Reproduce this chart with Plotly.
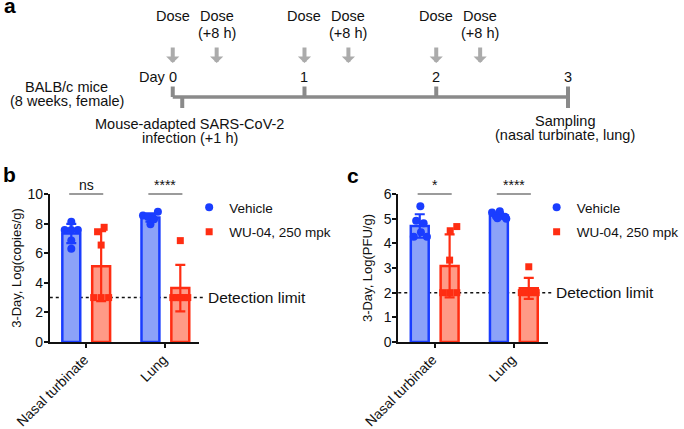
import numpy as np
import plotly.graph_objects as go

# ---------------- DATA ----------------
tissues = ["Nasal turbinate", "Lung"]
group_names = ["Vehicle", "WU-04, 250 mpk"]

# Panel b: 3-Day, Log(copies/g)
b_vehicle_nasal = [8.13, 7.57, 7.57, 7.57, 6.85, 6.30]
b_wu04_nasal = [7.45, 7.75, 6.55, 3.0, 3.0, 3.0]
b_vehicle_lung = [8.55, 8.45, 8.40, 8.80, 7.95, 8.30]
b_wu04_lung = [6.85, 3.0, 3.0, 3.0, 3.0, 3.0]
b_detection_limit = 3.0
b_significance = ["ns", "****"]
b_yticks = [0, 2, 4, 6, 8, 10]

# Panel c: 3-Day, Log(PFU/g)
c_vehicle_nasal = [5.50, 4.92, 4.81, 4.45, 4.27, 4.27]
c_wu04_nasal = [4.51, 4.68, 3.32, 2.0, 2.0, 2.0]
c_vehicle_lung = [5.25, 5.30, 5.10, 5.08, 5.02, 5.00]
c_wu04_lung = [3.05, 2.0, 2.0, 2.0, 2.0, 2.0]
c_detection_limit = 2.0
c_significance = ["*", "****"]
c_yticks = [0, 1, 2, 3, 4, 5, 6]

# Panel a: timeline (days)
day_ticks = [0, 1, 2, 3]
dose_days = [0, 1, 2]
second_dose_offset_h = 8
infection_marker_day = 0.072   # schematic position of "+1 h" infection mark
sampling_day = 3

# ---------------- STYLE ----------------
W, H = 684, 429
FONT = "Liberation Sans, Arial, Helvetica, sans-serif"
TXT = "#111111"
BLUE, BLUE_FILL = "#1a3dff", "#8ca2f8"
RED, RED_FILL = "#ff2d12", "#ff9a86"
GRAY_LINE, GRAY_ARROW, SIG_GRAY = "#8a8a8a", "#ababab", "#7a7a7a"

# point jitter (horizontal spread, in bar units)
jit_b_veh = [[0, -0.22, 0, 0.22, 0, 0], [-0.25, -0.08, 0.08, 0.25, 0.0, 0.12]]
jit_b_wu = [[-0.12, 0.1, 0, -0.25, 0, 0.25], [0, -0.25, -0.12, 0, 0.12, 0.25]]
jit_c_veh = [[0.02, -0.12, 0.13, 0.04, -0.2, 0.24], [-0.23, 0.03, -0.1, 0.2, -0.05, 0.25]]
jit_c_wu = [[0.02, 0.24, 0.0, -0.23, 0, 0.24], [0, -0.25, -0.12, 0, 0.12, 0.25]]

group_centers = [0.5, 3.15]
bar_off = 0.5
bar_w = 0.6
xrange_bar = [-0.72, 4.28]


def px(x):
    return x / W


def py(y):
    return 1 - y / H


fig = go.Figure()

panels = [
    dict(xa="x", ya="y", leg="legend",
         veh=[b_vehicle_nasal, b_vehicle_lung], wu=[b_wu04_nasal, b_wu04_lung],
         jv=jit_b_veh, jw=jit_b_wu, lod=b_detection_limit, sig=b_significance),
    dict(xa="x2", ya="y2", leg="legend2",
         veh=[c_vehicle_nasal, c_vehicle_lung], wu=[c_wu04_nasal, c_wu04_lung],
         jv=jit_c_veh, jw=jit_c_wu, lod=c_detection_limit, sig=c_significance),
]

shapes = []
annotations = []

for p in panels:
    for gi, (key, jkey, fill, edge, sym, sz) in enumerate([
        ("veh", "jv", BLUE_FILL, BLUE, "circle", 8),
        ("wu", "jw", RED_FILL, RED, "square", 7),
    ]):
        series = p[key]
        pos = [c + (-bar_off if gi == 0 else bar_off) for c in group_centers]
        means = [float(np.mean(s)) for s in series]
        sds = [float(np.std(s, ddof=1)) for s in series]
        fig.add_trace(go.Bar(
            x=pos, y=means, width=bar_w, xaxis=p["xa"], yaxis=p["ya"],
            marker=dict(color=fill, line=dict(color=edge, width=2.5)),
            error_y=dict(type="data", array=sds, visible=True, color=edge,
                         thickness=2.2, width=5),
            showlegend=False, hoverinfo="skip"))
        xs, ys = [], []
        for s, x0, jit in zip(series, pos, p[jkey]):
            xs += [x0 + j for j in jit]
            ys += list(s)
        fig.add_trace(go.Scatter(
            x=xs, y=ys, mode="markers", xaxis=p["xa"], yaxis=p["ya"],
            name=group_names[gi], legend=p["leg"], legendgroup=p["leg"] + key,
            marker=dict(symbol=sym, size=sz, color=edge, line=dict(width=0)),
            cliponaxis=False, hoverinfo="skip"))

    yd = p["ya"] + " domain"
    xd = p["xa"] + " domain"
    # significance bars
    for c, s in zip(group_centers, p["sig"]):
        shapes.append(dict(type="line", xref=p["xa"], yref=yd, x0=c - 0.57, x1=c + 0.57,
                           y0=1.0, y1=1.0, line=dict(color=SIG_GRAY, width=1.5)))
        annotations.append(dict(xref=p["xa"], yref=yd, x=c, y=1.0, text=s, showarrow=False,
                                xanchor="center", yanchor="bottom", yshift=-1,
                                font=dict(size=14, color=TXT, family=FONT)))
    # detection limit
    shapes.append(dict(type="line", xref=xd, yref=p["ya"], x0=0, x1=1.03,
                       y0=p["lod"], y1=p["lod"], layer="below",
                       line=dict(color="#111111", width=1.5, dash="dot")))
    annotations.append(dict(xref=xd, yref=p["ya"], x=1.045, y=p["lod"], text="Detection limit",
                            showarrow=False, xanchor="left", yanchor="middle",
                            font=dict(size=15.5, color=TXT, family=FONT)))

# ---------- panel a: timeline ----------
day_px, day0_px = 132.33, 173.5
A_FONT = dict(size=14.5, color=TXT, family=FONT)
fig.add_trace(go.Scatter(x=[day_ticks[0], day_ticks[-1]], y=[97, 97], xaxis="x3", yaxis="y3",
                         mode="lines", line=dict(color=GRAY_LINE, width=3.3),
                         showlegend=False, hoverinfo="skip"))
for d in day_ticks:
    y1 = 108 if d == sampling_day else 97
    shapes.append(dict(type="line", xref="x3", yref="y3", x0=d, x1=d, y0=86.5, y1=y1,
                       line=dict(color=GRAY_LINE, width=4)))
    annotations.append(dict(xref="x3", yref="y3", x=d, y=77, text=str(d), showarrow=False,
                            xanchor="center", yanchor="middle", font=A_FONT))
shapes.append(dict(type="line", xref="x3", yref="y3", x0=infection_marker_day,
                   x1=infection_marker_day, y0=97, y1=108,
                   line=dict(color=GRAY_LINE, width=4)))
annotations.append(dict(xref="x3", yref="y3", x=0, y=77, text="Day", showarrow=False,
                        xanchor="right", yanchor="middle", xshift=-5, font=A_FONT))

for d in dose_days:
    for t, label in [(d, ["Dose"]), (d + second_dose_offset_h / 24, ["Dose", "(+8 h)"])]:
        annotations.append(dict(xref="x3", yref="y3", x=t, y=63, ax=t, ay=46,
                                axref="x3", ayref="y3", text="", showarrow=True,
                                arrowhead=1, arrowsize=0.55, arrowwidth=4,
                                arrowcolor=GRAY_ARROW))
        for li, line in enumerate(label):
            annotations.append(dict(xref="x3", yref="y3", x=t, y=16 + 17 * li, text=line,
                                    showarrow=False, xanchor="center", yanchor="middle",
                                    font=A_FONT))

for text, x, y in [("BALB/c mice", 67, 87), ("(8 weeks, female)", 67, 101),
                   ("Mouse-adapted SARS-CoV-2", 190, 124), ("infection (+1 h)", 191, 137.5),
                   ("Sampling", 567, 121), ("(nasal turbinate, lung)", 567, 135)]:
    annotations.append(dict(xref="paper", yref="y3", x=px(x), y=y, text=text, showarrow=False,
                            xanchor="center", yanchor="middle", font=A_FONT))

# panel letters
for letter, x, y in [("a", 2, 5.5), ("b", 1, 174), ("c", 347, 175)]:
    annotations.append(dict(xref="paper", yref="paper", x=px(x), y=py(y), text=f"<b>{letter}</b>",
                            showarrow=False, xanchor="left", yanchor="middle",
                            font=dict(size=21, color="#000", family=FONT)))

axis_style = dict(showline=True, linecolor="#111111", linewidth=2, ticks="outside",
                  ticklen=4, tickwidth=2, tickcolor="#111111", showgrid=False,
                  zeroline=False, automargin=False, fixedrange=True,
                  tickfont=dict(size=14, color=TXT, family=FONT))
xstyle = dict(tickvals=group_centers, ticktext=tissues, tickangle=-45,
              ticklabelstandoff=-2, ticklabelshift=-2)
LEG = dict(xanchor="left", yanchor="top", tracegroupgap=4, bgcolor="rgba(0,0,0,0)",
           font=dict(size=13.5, color=TXT, family=FONT), itemsizing="trace")

fig.update_layout(
    width=W, height=H, margin=dict(l=0, r=0, t=0, b=0),
    paper_bgcolor="white", plot_bgcolor="rgba(0,0,0,0)",
    barmode="overlay", font=dict(family=FONT, color=TXT),
    xaxis=dict(domain=[px(50), px(200)], range=xrange_bar, anchor="y", **xstyle, **axis_style),
    yaxis=dict(domain=[py(342), py(194)], range=[0, 10], anchor="x", tickvals=b_yticks,
               ticklabelstandoff=-2,
               title=dict(text="3-Day, Log(copies/g)", standoff=3,
                          font=dict(size=13, color=TXT, family=FONT)), **axis_style),
    xaxis2=dict(domain=[px(400), px(550)], range=xrange_bar, anchor="y2", **xstyle, **axis_style),
    yaxis2=dict(domain=[py(342), py(194)], range=[0, 6], anchor="x2", tickvals=c_yticks,
                ticklabelstandoff=-2,
                title=dict(text="3-Day, Log(PFU/g)", standoff=8,
                           font=dict(size=13, color=TXT, family=FONT)), **axis_style),
    xaxis3=dict(domain=[0, 1], range=[-day0_px / day_px, (W - day0_px) / day_px],
                anchor="y3", visible=False, fixedrange=True),
    yaxis3=dict(domain=[0, 1], range=[H, 0], anchor="x3", visible=False, fixedrange=True),
    legend=dict(x=px(190), y=py(192), **LEG),
    legend2=dict(x=px(539), y=py(192), **LEG),
    shapes=shapes, annotations=annotations,
)

fig.write_html("out.html", config={"displayModeBar": False},
               post_script="document.body.style.margin='0px';")
